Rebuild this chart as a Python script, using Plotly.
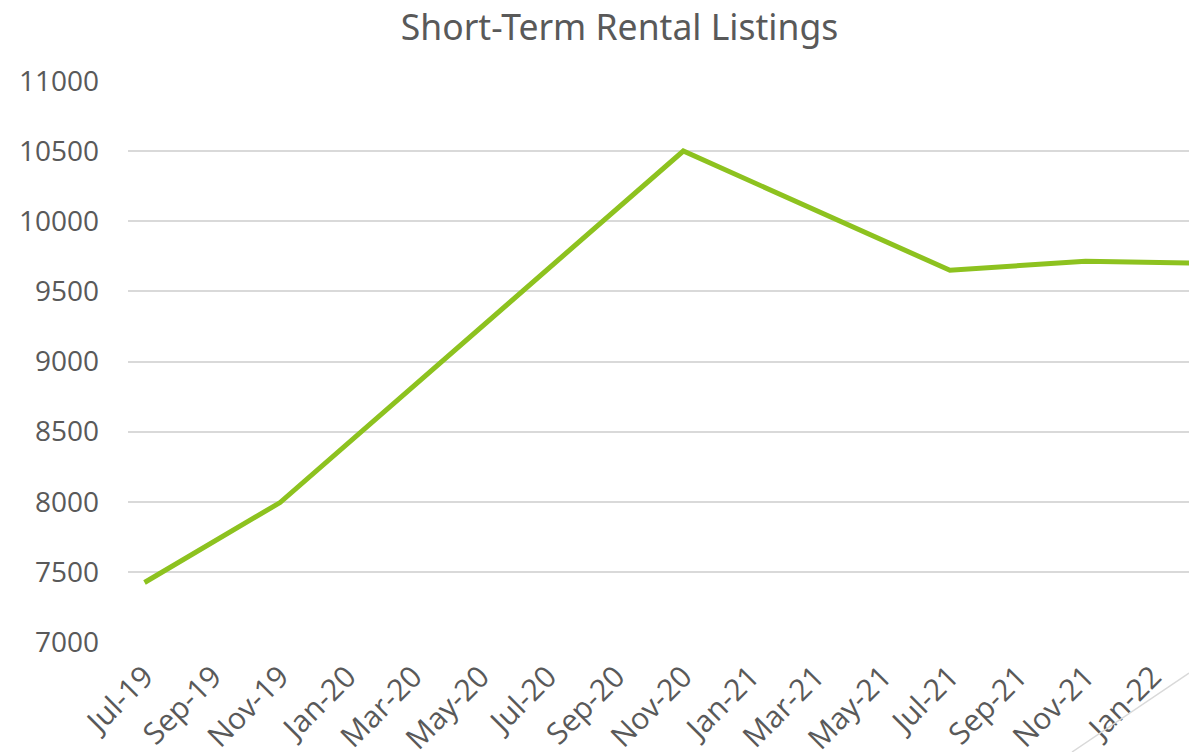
import plotly.graph_objects as go

dates = ["2019-07-01", "2019-11-01", "2020-11-01", "2021-07-01", "2021-11-01", "2022-03-01"]
listings = [7425, 7995, 10500, 9650, 9715, 9698]
title_text = "Short-Term Rental Listings"
y_ticks = [7000, 7500, 8000, 8500, 9000, 9500, 10000, 10500, 11000]
y_labels = [str(v) for v in y_ticks]

W, H = 1189, 752
ML, MR, MT, MB = 128, 0, 80, 109

fig = go.Figure()
fig.add_trace(go.Scatter(
    x=dates, y=listings, mode="lines",
    line=dict(color="#8DC21F", width=5),
    hoverinfo="x+y", showlegend=False,
))

pw = W - ML - MR
ph = H - MT - MB
fig.add_shape(type="line", xref="paper", yref="paper",
              x0=(1072 - ML) / pw, y0=(H - MB - 752) / ph,
              x1=(1189 - ML) / pw, y1=(H - MB - 673) / ph,
              line=dict(color="#D9D9D9", width=1.5))

fig.update_layout(
    width=W, height=H,
    margin=dict(l=ML, r=MR, t=MT, b=MB, autoexpand=False),
    paper_bgcolor="white", plot_bgcolor="white",
    title=dict(text=title_text, x=619.5 / W, xanchor="center", xref="container",
               y=1 - 15 / H, yanchor="top", yref="container",
               font=dict(family="Noto Sans", size=35.5, color="#595959")),
    font=dict(family="Open Sans", color="#595959"),
)
fig.update_xaxes(
    type="date", range=["2019-06-16", "2022-02-03"],
    tick0="2019-07-01", dtick="M2", tickformat="%b-%y",
    tickangle=-45, tickfont=dict(size=30, color="#595959"),
    showgrid=False, showline=False, zeroline=False, ticks="",
    automargin=False, ticklabelstandoff=9,
)
fig.update_yaxes(
    range=[6994, 11006], tickvals=y_ticks, ticktext=y_labels,
    tickfont=dict(size=28, color="#595959"),
    showgrid=True, gridcolor="#D9D9D9", gridwidth=1.5,
    zeroline=False, showline=False, ticks="",
    automargin=False, ticklabelstandoff=28,
)
fig.write_html("out.html", config={"displayModeBar": False},
               post_script="document.body.style.margin='0';document.body.style.overflow='hidden';")
